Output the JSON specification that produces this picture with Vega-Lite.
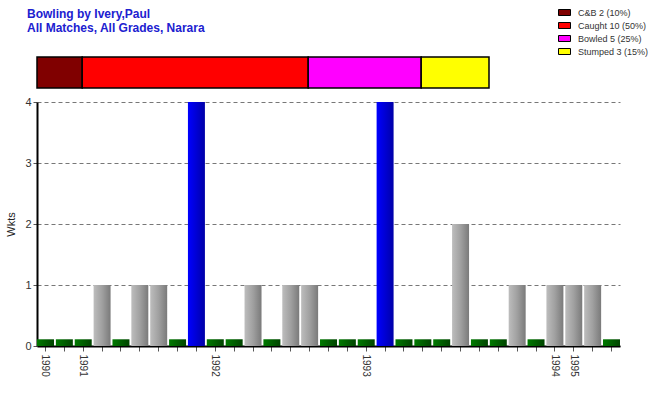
{
  "$schema": "https://vega.github.io/schema/vega-lite/v6.json",
  "background": "white",
  "padding": {"left": 5, "top": 8, "right": 2, "bottom": 5},
  "title": {
    "text": "Bowling by Ivery,Paul",
    "subtitle": "All Matches, All Grades, Narara",
    "anchor": "start",
    "frame": "group",
    "dx": -10,
    "offset": -27,
    "font": "Liberation Sans",
    "fontSize": 12,
    "fontWeight": "bold",
    "color": "#2020d0",
    "subtitleFont": "Liberation Sans",
    "subtitleFontSize": 12,
    "subtitleFontWeight": "bold",
    "subtitleColor": "#2020d0",
    "subtitlePadding": 2
  },
  "bounds": "flush",
  "spacing": 14,
  "vconcat": [
    {
      "width": 452,
      "height": 31,
      "data": {
        "values": [
          {"cat": "C&B 2 (10%)", "n": 2, "o": 1, "row": "all"},
          {"cat": "Caught 10 (50%)", "n": 10, "o": 2, "row": "all"},
          {"cat": "Bowled 5 (25%)", "n": 5, "o": 3, "row": "all"},
          {"cat": "Stumped 3 (15%)", "n": 3, "o": 4, "row": "all"}
        ]
      },
      "mark": {"type": "bar", "stroke": "black", "strokeWidth": 1.5},
      "encoding": {
        "y": {"field": "row", "type": "nominal", "axis": null, "scale": {"paddingInner": 0, "paddingOuter": 0}},
        "x": {"field": "n", "type": "quantitative", "stack": "zero", "axis": null, "scale": {"domain": [0, 20], "nice": false}},
        "order": {"field": "o", "type": "quantitative"},
        "color": {
          "field": "cat",
          "type": "nominal",
          "sort": ["C&B 2 (10%)", "Caught 10 (50%)", "Bowled 5 (25%)", "Stumped 3 (15%)"],
          "scale": {
            "domain": ["C&B 2 (10%)", "Caught 10 (50%)", "Bowled 5 (25%)", "Stumped 3 (15%)"],
            "range": ["#800000", "#ff0000", "#ff00ff", "#ffff00"]
          },
          "legend": {
            "orient": "none",
            "legendX": 523,
            "legendY": -49,
            "title": null,
            "padding": 0,
            "symbolType": "M-1.5,-0.75H1.5V0.75H-1.5Z",
            "symbolSize": 64,
            "symbolStrokeColor": "black",
            "symbolStrokeWidth": 1,
            "symbolOpacity": 1,
            "rowPadding": 2,
            "labelOffset": 9,
            "labelFont": "Liberation Sans",
            "labelFontSize": 9,
            "labelColor": "#333333"
          }
        }
      }
    },
    {
      "width": 583,
      "height": 244,
      "data": {
        "values": [
          {"idx": 1, "w": 0}, {"idx": 2, "w": 0}, {"idx": 3, "w": 0}, {"idx": 4, "w": 1},
          {"idx": 5, "w": 0}, {"idx": 6, "w": 1}, {"idx": 7, "w": 1}, {"idx": 8, "w": 0},
          {"idx": 9, "w": 4}, {"idx": 10, "w": 0}, {"idx": 11, "w": 0}, {"idx": 12, "w": 1},
          {"idx": 13, "w": 0}, {"idx": 14, "w": 1}, {"idx": 15, "w": 1}, {"idx": 16, "w": 0},
          {"idx": 17, "w": 0}, {"idx": 18, "w": 0}, {"idx": 19, "w": 4}, {"idx": 20, "w": 0},
          {"idx": 21, "w": 0}, {"idx": 22, "w": 0}, {"idx": 23, "w": 2}, {"idx": 24, "w": 0},
          {"idx": 25, "w": 0}, {"idx": 26, "w": 1}, {"idx": 27, "w": 0}, {"idx": 28, "w": 1},
          {"idx": 29, "w": 1}, {"idx": 30, "w": 1}, {"idx": 31, "w": 0}
        ]
      },
      "encoding": {
        "x": {
          "field": "idx",
          "type": "ordinal",
          "scale": {"paddingInner": 0.1, "paddingOuter": 0},
          "axis": {
            "title": null,
            "labelExpr": "({'1':'1990','3':'1991','10':'1992','18':'1993','28':'1994','29':'1995'})[datum.label] || ''",
            "labelAngle": 90,
            "labelFont": "Liberation Sans",
            "labelFontSize": 10,
            "labelColor": "#333333",
            "labelPadding": 3,
            "tickColor": "#555555",
            "tickSize": 5,
            "domainColor": "black",
            "domainWidth": 2,
            "grid": false
          }
        },
        "y": {
          "field": "w",
          "type": "quantitative",
          "scale": {"domain": [0, 4], "nice": false},
          "axis": {
            "title": "Wkts",
            "values": [0, 1, 2, 3, 4],
            "format": "d",
            "titleFont": "Liberation Sans",
            "titleFontSize": 11,
            "titleFontWeight": "normal",
            "titleColor": "#222222",
            "titlePadding": 8,
            "labelFont": "Liberation Sans",
            "labelFontSize": 11,
            "labelColor": "#333333",
            "labelPadding": 2,
            "tickSize": 4,
            "tickColor": "#555555",
            "domainColor": "black",
            "domainWidth": 2,
            "grid": true,
            "gridColor": "#777777",
            "gridDash": [4, 3],
            "gridWidth": 1
          }
        }
      },
      "layer": [
        {
          "transform": [{"filter": "datum.w == 0"}],
          "mark": {
            "type": "bar",
            "color": {"x1": 0, "x2": 1, "y1": 0, "y2": 0, "gradient": "linear",
              "stops": [{"offset": 0, "color": "#007a00"}, {"offset": 1, "color": "#004400"}]}
          },
          "encoding": {
            "y2": {"datum": 0.11}
          }
        },
        {
          "transform": [{"filter": "datum.w > 0 && datum.w < 4"}],
          "mark": {
            "type": "bar",
            "color": {"x1": 0, "x2": 1, "y1": 0, "y2": 0, "gradient": "linear",
              "stops": [{"offset": 0, "color": "#bdbdbd"}, {"offset": 0.5, "color": "#a0a0a0"}, {"offset": 1, "color": "#7a7a7a"}]}
          }
        },
        {
          "transform": [{"filter": "datum.w == 4"}],
          "mark": {
            "type": "bar",
            "color": {"x1": 0, "x2": 1, "y1": 0, "y2": 0, "gradient": "linear",
              "stops": [{"offset": 0, "color": "#0000ff"}, {"offset": 1, "color": "#0000a8"}]}
          }
        }
      ]
    }
  ],
  "config": {
    "view": {"stroke": null}
  }
}
